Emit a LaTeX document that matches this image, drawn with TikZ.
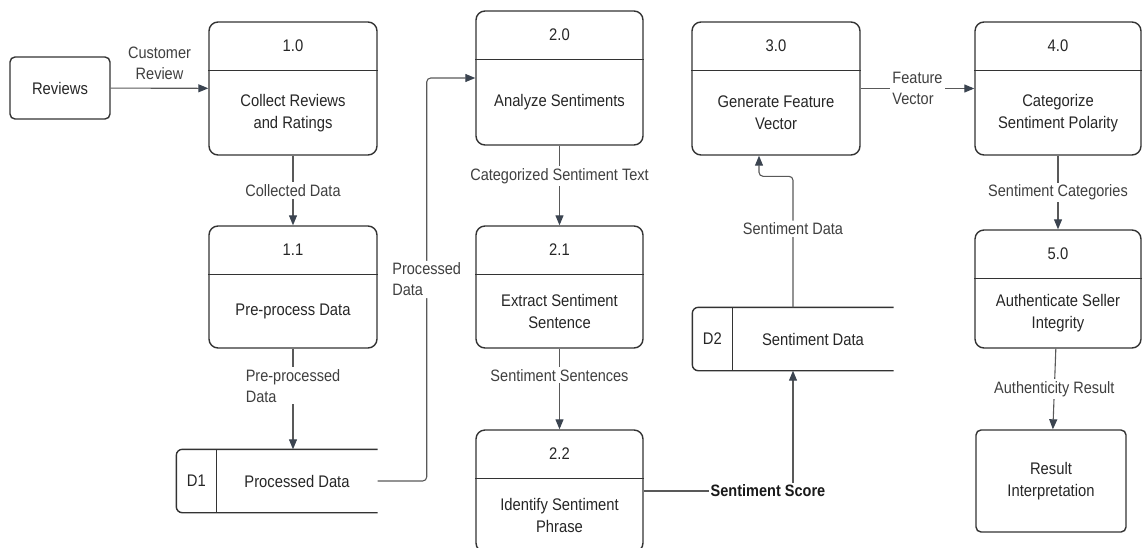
\documentclass[tikz,border=0pt]{standalone}
\usepackage{fontspec}
\setmainfont{Liberation Sans}[FakeStretch=0.88]
\usetikzlibrary{positioning,arrows.meta,calc}
\definecolor{arrowc}{HTML}{3B4450}

\begin{document}
\begin{tikzpicture}[
  x=1pt,y=-1pt,
  line width=1.4pt,
  every node/.style={font=\fontsize{16.8}{22}\selectfont,text=black!85},
  procbox/.style={draw=black!80,rounded corners=9pt,inner sep=0pt},
  extbox/.style={draw=black!80,rounded corners=5pt,inner sep=0pt},
  storebox/.style={inner sep=0pt},
  boxtext/.style={align=center,inner sep=0pt},
  flow/.style={draw=black!65,line width=1.1pt,
    -{Triangle[length=10pt,width=8pt,color=arrowc]}},
  lbl/.style={fill=white,inner sep=2pt,text=black!75,
    font=\fontsize{16.5}{21}\selectfont}
]
\useasboundingbox (0,0) rectangle (1143,547);
\clip (0,0) rectangle (1143,547);

% external entities
\node[extbox,minimum width=100,minimum height=62] (rev) at (60,88) {Reviews};
\node[extbox,minimum width=150,minimum height=102,align=center]
  (res) at (1051,481) {Result\\Interpretation};

% processes
\foreach \n/\xl/\xr/\yt/\yb/\num/\txt in {
  p10/209/377/22/155/1.0/{Collect Reviews\\and Ratings},
  p11/209/377/226/348/1.1/{Pre-process Data},
  p20/476/643/11/145/2.0/{Analyze Sentiments},
  p21/476/643/226/348/2.1/{Extract Sentiment\\Sentence},
  p22/476/643/430/552/2.2/{Identify Sentiment\\Phrase},
  p30/692/860/22/155/3.0/{Generate Feature\\Vector},
  p40/975/1141/22/155/4.0/{Categorize\\Sentiment Polarity},
  p50/975/1141/230/348/5.0/{Authenticate Seller\\Integrity}}{
  \node[procbox,minimum width={\xr-\xl},minimum height={\yb-\yt}]
    (\n) at ({(\xl+\xr)/2},{(\yt+\yb)/2}) {};
  \draw[draw=black!80]
    ([yshift=-49pt]\n.north west) -- ([yshift=-49pt]\n.north east);
  \node[boxtext] (\n-num) at ([yshift=-24.5pt]\n.north) {\num};
  \node[boxtext] (\n-txt)
    at ($([yshift=-49pt]\n.north)!0.5!(\n.south)$) {\txt};
}

% data stores
\node[storebox,minimum width=200,minimum height=62] (d1) at (277,481) {};
\node[storebox,minimum width=200,minimum height=62] (d2) at (793,339) {};
\foreach \d/\id/\txt in {d1/D1/Processed Data,d2/D2/Sentiment Data}{
  \draw[draw=black!80,rounded corners=6pt]
    (\d.north east) -- (\d.north west) -- (\d.south west) -- (\d.south east);
  \draw[draw=black!80]
    ([xshift=40pt]\d.north west) -- ([xshift=40pt]\d.south west);
  \node (\d-id) at ($(\d.west)+(20,0)$) {\id};
  \node (\d-txt) at ($(\d.east)!0.5!([xshift=40pt]\d.west)$) {\txt};
}

% data flows
\draw[flow] (rev) -- node[lbl,above=6pt,align=center] (l-cust)
  {Customer\\Review} (p10);
\draw[flow] (p10) -- node[lbl] (l-coll) {Collected Data} (p11);
\draw[flow] (p11.south) -- node[lbl,pos=0.37,align=left] (l-pre)
  {Pre-processed\\Data} (p11.south |- d1.north);
\draw[flow,rounded corners=4pt] (d1.east) -- ++(49,0)
  |- node[lbl,pos=0.25,align=left] (l-proc) {Processed\\Data} (p20.west);
\draw[flow] (p20) -- node[lbl,pos=0.38] (l-cat)
  {Categorized Sentiment Text} (p21);
\draw[flow] (p21) -- node[lbl,pos=0.33] (l-sent) {Sentiment Sentences} (p22);
\draw[flow] (p22.east) -| node[lbl,pos=0.5,xshift=-25pt,text=black!90,
  font=\fontsize{16.5}{21}\selectfont\bfseries] (l-score)
  {Sentiment Score} (d2.south);
\draw[flow,rounded corners=4pt] (d2.north)
  -- node[lbl,pos=0.6] (l-sdat) {Sentiment Data} ++(0,-131)
  -| ([xshift=-17pt]p30.south);
\draw[flow] (p30) -- node[lbl,align=left] (l-feat) {Feature\\Vector} (p40);
\draw[flow] (p40) -- node[lbl] (l-cats) {Sentiment Categories} (p50);
\draw[flow] (p50) -- node[lbl] (l-auth) {Authenticity Result} (res);
\end{tikzpicture}
\end{document}
